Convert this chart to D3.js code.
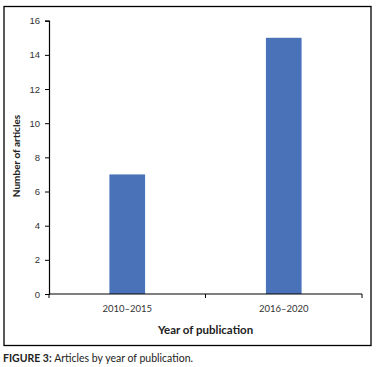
<!DOCTYPE html>
<html>
<head>
<meta charset="utf-8">
<script src="https://cdn.jsdelivr.net/npm/d3@7"></script>
<style>
  body { margin: 0; background: #fff; }
  svg { display: block; font-family: Lato, 'Open Sans', sans-serif; }
</style>
</head>
<body>
<svg id="chart"></svg>
<script>
const categories = ['2010\u20132015', '2016\u20132020'];
const articles = [7, 15];
const yTicks = [0, 2, 4, 6, 8, 10, 12, 14, 16];

const W = 379, H = 367;
const margin = { top: 20.7, right: 17, bottom: 73, left: 49 };
const width = W - margin.left - margin.right;
const height = 294 - margin.top;

const root = d3.select('#chart').attr('width', W).attr('height', H);

// outer frame
root.append('rect')
  .attr('x', 4).attr('y', 6.5)
  .attr('width', 367).attr('height', 339)
  .attr('fill', 'none')
  .attr('stroke', '#000')
  .attr('stroke-width', 1.3);

const svg = root.append('g').attr('transform', `translate(${margin.left},${margin.top})`);

const x = d3.scaleBand().domain(categories).range([0, width]).paddingInner(0).paddingOuter(0);
const y = d3.scaleLinear().domain([0, 16]).range([height, 0]);

// bars
const barW = x.bandwidth() * 0.228;
svg.selectAll('rect.bar')
  .data(categories)
  .enter().append('rect')
  .attr('class', 'bar')
  .attr('x', (d) => x(d) + x.bandwidth() / 2 - barW / 2)
  .attr('y', (d, i) => y(articles[i]))
  .attr('width', barW)
  .attr('height', (d, i) => height - y(articles[i]))
  .attr('fill', '#4a72b8');

// y axis
const yAxis = svg.append('g')
  .call(d3.axisLeft(y).tickValues(yTicks).tickSize(4).tickPadding(5));
yAxis.select('.domain').attr('stroke', '#000').attr('stroke-width', 1.2);
yAxis.selectAll('.tick line').attr('stroke', '#000');
yAxis.selectAll('text').style('font-size', '9.5px').attr('fill', '#333');

// x axis, ticks at band edges
const xAxis = svg.append('g').attr('transform', `translate(0,${height})`);
xAxis.append('line')
  .attr('x1', 0).attr('x2', width)
  .attr('stroke', '#000').attr('stroke-width', 1.2);
const edges = categories.map((d) => x(d)).concat([width]);
xAxis.selectAll('line.edge')
  .data(edges)
  .enter().append('line')
  .attr('class', 'edge')
  .attr('x1', (d) => d).attr('x2', (d) => d)
  .attr('y1', 0).attr('y2', 4)
  .attr('stroke', '#000');
xAxis.selectAll('text.cat')
  .data(categories)
  .enter().append('text')
  .attr('class', 'cat')
  .attr('x', (d) => x(d) + x.bandwidth() / 2)
  .attr('y', 17.5)
  .attr('text-anchor', 'middle')
  .style('font-size', '9.5px')
  .attr('fill', '#333')
  .text((d) => d);

// axis titles
root.append('text')
  .attr('x', margin.left + width / 2)
  .attr('y', 334)
  .attr('text-anchor', 'middle')
  .style('font-size', '11.5px')
  .style('font-weight', 'bold')
  .attr('fill', '#222')
  .text('Year of publication');

root.append('text')
  .attr('transform', 'translate(19.5,156) rotate(-90)')
  .attr('text-anchor', 'middle')
  .style('font-size', '10px')
  .style('font-weight', 'bold')
  .attr('fill', '#222')
  .text('Number of articles');

// caption
const cap = root.append('text')
  .attr('x', 3)
  .attr('y', 362)
  .style('font-size', '10.5px')
  .attr('fill', '#222');
cap.append('tspan').style('font-weight', 'bold').text('FIGURE 3: ');
cap.append('tspan').text('Articles by year of publication.');
</script>
</body>
</html>
